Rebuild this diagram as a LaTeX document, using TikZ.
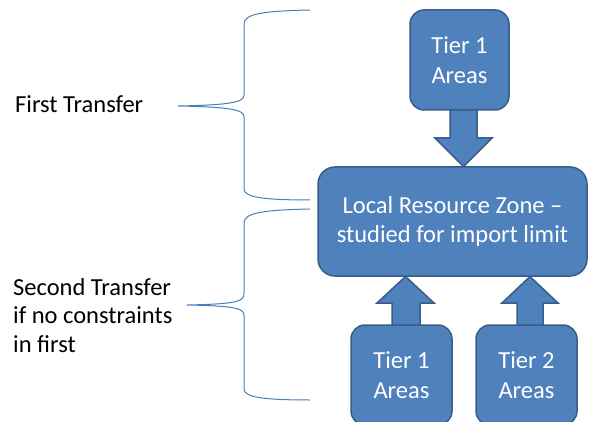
\documentclass[tikz,border=0pt]{standalone}
\usepackage{fontspec}
\setmainfont{Carlito}
\definecolor{boxfill}{HTML}{4F81BD}
\definecolor{boxline}{HTML}{385D8A}
\definecolor{bracecol}{HTML}{4A7EBB}
\begin{document}
\begin{tikzpicture}[x=1pt,y=-1pt,
  box/.style={draw=boxline, line width=1.5pt, fill=boxfill, rounded corners=14pt,
    text=white, align=center, font=\fontsize{24.5}{29.5}\selectfont, inner sep=0pt},
  barrow/.style={draw=boxline, line width=1.5pt, fill=boxfill, line join=miter},
  brace/.style={draw=bracecol, line width=1pt},
  lbl/.style={font=\fontsize{24.5}{28.5}\selectfont, align=left, anchor=base west, inner sep=0pt}]
\useasboundingbox (0,0) rectangle (589,422);
\clip (0,0) rectangle (589,422);

% block arrows (drawn first, boxes cover their ends)
\draw[barrow] (450,105) -- (450,138) -- (435,138) -- (463.5,166.5) -- (492,138) -- (477,138) -- (477,105);
\draw[barrow] (392,330) -- (392,303) -- (377,303) -- (405.5,276.5) -- (434,303) -- (420,303) -- (420,330);
\draw[barrow] (517,330) -- (517,303) -- (502,303) -- (530,276.5) -- (558,303) -- (543,303) -- (543,330);

% boxes
\node[box, minimum width=99pt, minimum height=100pt] (t1top) at (459.5,60) {Tier 1\\Areas};
\node[box, minimum width=269pt, minimum height=109pt, rounded corners=17pt] (lrz) at (452.5,221.5)
  {Local Resource Zone --\\studied for import limit};
\node[box, minimum width=101pt, minimum height=100pt] (t1b) at (401.5,375) {Tier 1\\Areas};
\node[box, minimum width=101pt, minimum height=100pt] (t2b) at (526.5,375) {Tier 2\\Areas};

% braces
\draw[brace] (310,10) .. controls (262,11) and (244,14) .. (244,24) -- (244,95)
  .. controls (244,102) and (232,105) .. (178,106)
  .. controls (232,107) and (244,110) .. (244,117) -- (244,189)
  .. controls (244,197) and (262,200) .. (310,200);
\draw[brace] (310,209) .. controls (262,210) and (244,213) .. (244,223) -- (244,293)
  .. controls (244,301) and (240,304) .. (187,305)
  .. controls (240,306) and (244,309) .. (244,316) -- (244,389)
  .. controls (244,397) and (262,400) .. (310,400);

% labels
\node[lbl] (first) at (15,113) {First Transfer};
\node[lbl] (second) at (13,352) {Second Transfer\\if no constraints\\in first};
\end{tikzpicture}
\end{document}
